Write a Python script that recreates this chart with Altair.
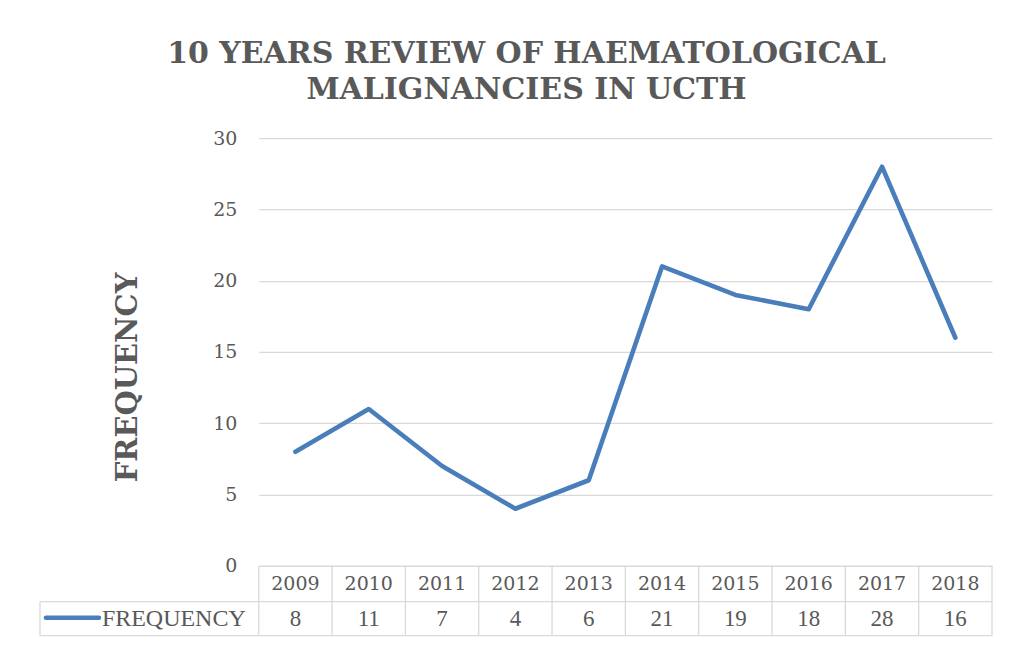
import altair as alt
import pandas as pd

years = ["2009", "2010", "2011", "2012", "2013", "2014", "2015", "2016", "2017", "2018"]
freq = [8, 11, 7, 4, 6, 21, 19, 18, 28, 16]
title_lines = ["10 YEARS REVIEW OF HAEMATOLOGICAL", "MALIGNANCIES IN UCTH"]
series_name = "FREQUENCY"

df = pd.DataFrame({"year": years, "freq": freq})

W, H = 734, 428
HALF = W / len(years) / 2
BLUE = "#4a7ebb"
GRID = "#d9d9d9"
TXT = "#595959"

xs = alt.Scale(domain=years, paddingInner=0, paddingOuter=0)
X = alt.X("year:O", scale=xs, axis=None)

base = alt.Chart(df)
first = base.transform_filter(alt.datum.year == years[0])
last = base.transform_filter(alt.datum.year == years[-1])

line = base.mark_line(color=BLUE, strokeWidth=4.6, strokeCap="round", strokeJoin="round").encode(
    x=X,
    y=alt.Y("freq:Q", scale=alt.Scale(domain=[0, 30], nice=False),
            axis=alt.Axis(values=[0, 5, 10, 15, 20, 25, 30], title="FREQUENCY",
                          grid=True, gridColor=GRID, gridWidth=1.3, domain=False, ticks=False,
                          labelFont="DejaVu Serif", labelFontSize=19, labelColor=TXT,
                          labelPadding=22,
                          titleFont="DejaVu Serif", titleFontSize=29, titleFontWeight="bold",
                          titleColor=TXT, titleX=-131, titleY=239, titleAngle=270,
                          titleAlign="center", titleBaseline="middle")),
)

header = base.mark_text(font="DejaVu Serif", fontSize=19, color=TXT, baseline="middle").encode(
    x=X, y=alt.value(446), text="year:N")
values = base.mark_text(font="Liberation Serif", fontSize=23, color=TXT, baseline="middle").encode(
    x=X, y=alt.value(481), text="freq:Q")

rule_style = dict(color=GRID, strokeWidth=1.3)

# vertical cell borders (left edge of each year column)
vlines = base.mark_rule(xOffset=-HALF, **rule_style).encode(
    x=X, y=alt.value(428), y2=alt.value(498))
# right border of the table
right_line = last.mark_rule(xOffset=HALF, **rule_style).encode(
    x=X, y=alt.value(428), y2=alt.value(498))
# horizontal row lines under each year column
mid_cells = base.mark_rule(xOffset=-HALF, x2Offset=HALF, **rule_style).encode(
    x=X, x2=alt.X2("year"), y=alt.value(464))
bot_cells = base.mark_rule(xOffset=-HALF, x2Offset=HALF, **rule_style).encode(
    x=X, x2=alt.X2("year"), y=alt.value(498))
# legend cell (left of the plot)
LEFT = -219 - HALF
leg_mid = first.mark_rule(xOffset=LEFT, x2Offset=-HALF, **rule_style).encode(
    x=X, x2=alt.X2("year"), y=alt.value(464))
leg_bot = first.mark_rule(xOffset=LEFT, x2Offset=-HALF, **rule_style).encode(
    x=X, x2=alt.X2("year"), y=alt.value(498))
leg_left = first.mark_rule(xOffset=LEFT, **rule_style).encode(
    x=X, y=alt.value(464), y2=alt.value(498))
key = first.mark_rule(color=BLUE, strokeWidth=4.6, strokeCap="round",
                      xOffset=-213 - HALF, x2Offset=-160 - HALF).encode(
    x=X, x2=alt.X2("year"), y=alt.value(480))
key_text = first.mark_text(font="Liberation Serif", fontSize=24, color=TXT, align="left",
                           baseline="middle", text=series_name, dx=-157 - HALF).encode(
    x=X, y=alt.value(481))

chart = alt.layer(
    vlines, right_line, mid_cells, bot_cells, leg_mid, leg_bot, leg_left,
    line, header, values, key, key_text
).properties(
    width=W, height=H,
    title=alt.Title(text=title_lines, anchor="middle", offset=24, dx=-99,
                    font="DejaVu Serif", fontSize=30, fontWeight="bold", color=TXT,
                    lineHeight=36),
    autosize=alt.AutoSizeParams(type="none"),
    padding={"left": 251, "top": 130, "right": 12, "bottom": 75},
).configure_view(stroke=None)

chart.save("out.html", embed_options={"renderer": "svg", "actions": False})
